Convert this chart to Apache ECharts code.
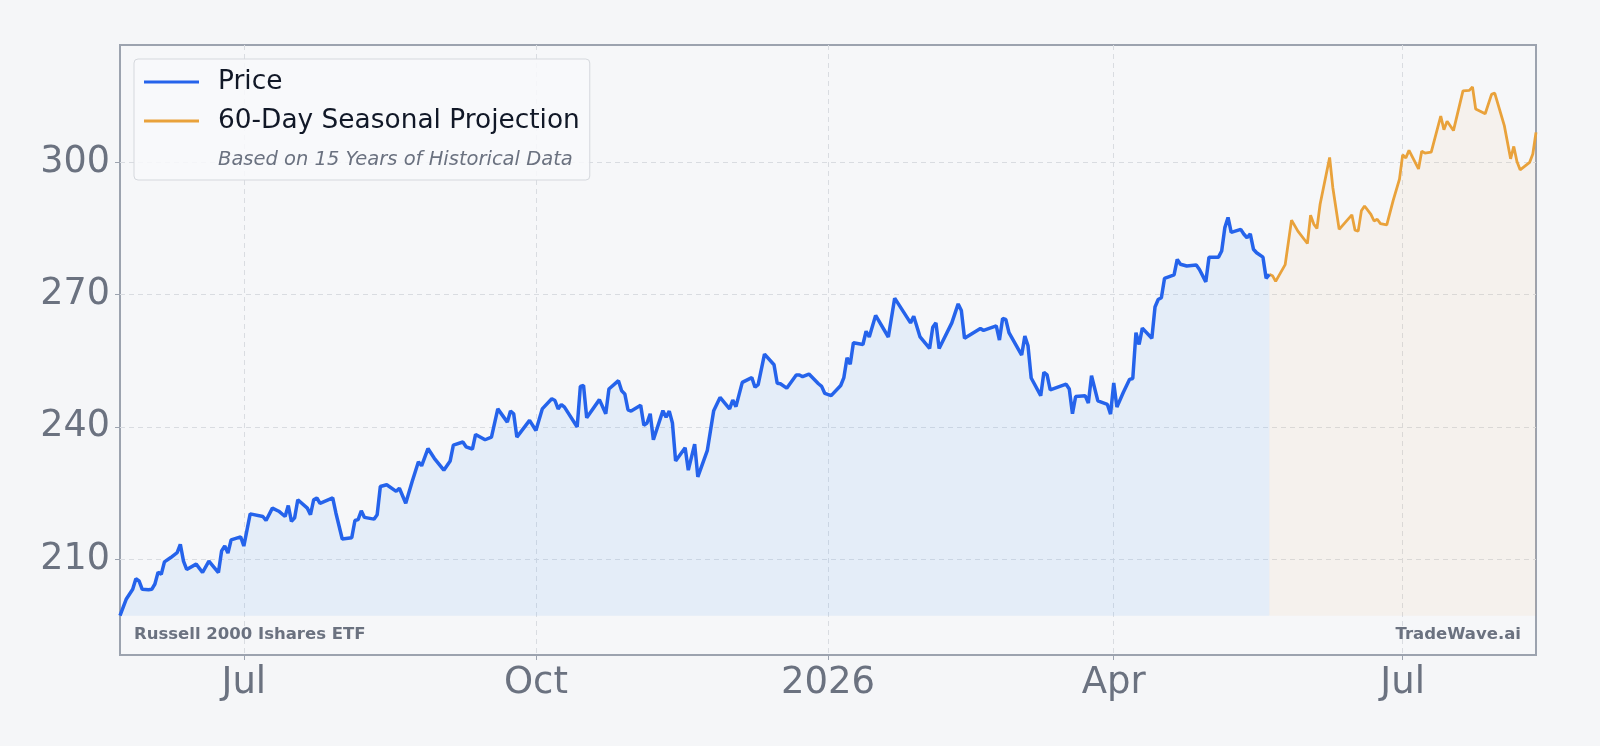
<!DOCTYPE html>
<html>
<head>
<meta charset="utf-8">
<style>
  html, body { margin: 0; padding: 0; background: #f5f6f8; }
  #chart { width: 1600px; height: 746px; }
</style>
<script src="https://cdn.jsdelivr.net/npm/echarts@6/dist/echarts.min.js"></script>
</head>
<body>
<div id="chart"></div>
<script>
// price history
var priceDates = [
  '2025-05-23','2025-05-25','2025-05-27','2025-05-28','2025-05-29','2025-05-30','2025-06-01','2025-06-02',
  '2025-06-03','2025-06-04','2025-06-05','2025-06-06','2025-06-08','2025-06-10','2025-06-11','2025-06-12',
  '2025-06-13','2025-06-16','2025-06-18','2025-06-20','2025-06-23','2025-06-24','2025-06-25','2025-06-26',
  '2025-06-27','2025-06-30','2025-07-01','2025-07-03','2025-07-07','2025-07-08','2025-07-10','2025-07-12',
  '2025-07-14','2025-07-15','2025-07-16','2025-07-17','2025-07-18','2025-07-21','2025-07-22','2025-07-23',
  '2025-07-24','2025-07-25','2025-07-29','2025-07-30','2025-08-01','2025-08-04','2025-08-05','2025-08-06',
  '2025-08-07','2025-08-08','2025-08-11','2025-08-12','2025-08-13','2025-08-15','2025-08-18','2025-08-19',
  '2025-08-21','2025-08-23','2025-08-25','2025-08-26','2025-08-28','2025-08-30','2025-09-02','2025-09-04',
  '2025-09-05','2025-09-08','2025-09-09','2025-09-11','2025-09-12','2025-09-15','2025-09-17','2025-09-19',
  '2025-09-22','2025-09-23','2025-09-24','2025-09-25','2025-09-29','2025-10-01','2025-10-03','2025-10-06',
  '2025-10-07','2025-10-08','2025-10-09','2025-10-10','2025-10-14','2025-10-15','2025-10-16','2025-10-17',
  '2025-10-21','2025-10-23','2025-10-24','2025-10-27','2025-10-28','2025-10-29','2025-10-30','2025-10-31',
  '2025-11-03','2025-11-04','2025-11-05','2025-11-06','2025-11-07','2025-11-10','2025-11-11','2025-11-12',
  '2025-11-13','2025-11-14','2025-11-17','2025-11-18','2025-11-20','2025-11-21','2025-11-24','2025-11-26',
  '2025-11-28','2025-12-01','2025-12-02','2025-12-03','2025-12-05','2025-12-08','2025-12-09','2025-12-10',
  '2025-12-12','2025-12-15','2025-12-16','2025-12-17','2025-12-19','2025-12-22','2025-12-23','2025-12-24',
  '2025-12-26','2025-12-29','2025-12-30','2025-12-31','2026-01-02','2026-01-05','2026-01-06','2026-01-07',
  '2026-01-08','2026-01-09','2026-01-12','2026-01-13','2026-01-14','2026-01-16','2026-01-20','2026-01-22',
  '2026-01-27','2026-01-28','2026-01-30','2026-02-02','2026-02-03','2026-02-04','2026-02-05','2026-02-09',
  '2026-02-11','2026-02-12','2026-02-13','2026-02-18','2026-02-19','2026-02-23','2026-02-24','2026-02-25',
  '2026-02-26','2026-02-27','2026-03-03','2026-03-04','2026-03-05','2026-03-06','2026-03-09','2026-03-10',
  '2026-03-11','2026-03-12','2026-03-17','2026-03-18','2026-03-19','2026-03-20','2026-03-23','2026-03-24',
  '2026-03-25','2026-03-27','2026-03-30','2026-03-31','2026-04-01','2026-04-02','2026-04-04','2026-04-06',
  '2026-04-07','2026-04-08','2026-04-09','2026-04-10','2026-04-13','2026-04-14','2026-04-15','2026-04-16',
  '2026-04-17','2026-04-20','2026-04-21','2026-04-22','2026-04-24','2026-04-27','2026-04-28','2026-04-30',
  '2026-05-01','2026-05-04','2026-05-05','2026-05-06','2026-05-07','2026-05-08','2026-05-11','2026-05-12',
  '2026-05-13','2026-05-14','2026-05-15','2026-05-16','2026-05-18','2026-05-19','2026-05-20'
];
var priceValues = [
  197.2,201.0,203.2,205.6,205.1,203.2,203.1,203.2,
  204.4,207.1,206.6,209.4,210.4,211.5,213.4,209.6,
  207.7,208.9,207.0,209.6,207.0,211.9,213.0,211.4,
  214.4,215.1,213.0,220.3,219.7,218.8,221.6,220.9,
  219.7,222.2,218.6,219.4,223.5,221.6,220.1,223.5,
  223.9,222.7,223.9,220.5,214.6,214.9,218.8,219.0,
  221.0,219.5,219.1,220.1,226.5,226.9,225.4,226.1,
  222.7,227.6,232.1,231.2,235.1,232.9,230.2,232.3,
  235.9,236.6,235.5,235.0,238.3,237.1,237.7,244.1,
  241.1,243.6,243.0,237.7,241.5,239.2,244.1,246.4,
  246.0,244.1,245.1,244.5,240.0,249.2,249.4,242.1,
  246.2,243.0,248.6,250.5,248.2,247.5,243.9,243.6,
  244.9,240.4,240.9,243.0,237.1,243.7,242.2,243.6,
  240.9,232.3,235.3,230.2,236.1,228.7,234.7,243.7,
  246.7,244.1,246.1,244.6,250.1,251.2,249.0,249.6,
  256.5,254.1,249.9,249.8,248.8,251.8,251.8,251.4,
  252.0,249.8,249.2,247.6,247.1,249.4,251.2,255.7,
  254.2,259.1,258.7,261.7,260.4,265.3,260.4,269.2,
  263.6,265.1,260.4,257.8,262.6,263.6,257.8,263.6,
  267.9,266.4,260.1,262.3,261.9,262.9,259.7,264.6,
  264.4,261.4,256.3,260.6,258.4,251.1,247.1,252.4,
  251.8,248.4,249.7,248.6,243.0,246.9,247.1,245.4,
  251.6,245.9,245.1,242.9,250.0,244.5,247.8,250.8,
  251.0,261.4,258.7,262.4,260.1,267.2,268.9,269.3,
  273.7,274.5,278.0,276.9,276.5,276.7,275.7,272.9,
  278.5,278.5,279.9,285.2,287.5,284.1,284.8,283.7,
  282.9,283.8,280.3,279.5,278.5,273.7,274.6
];

// 60-day seasonal projection
var projDates = [
  '2026-05-20','2026-05-21','2026-05-22','2026-05-25','2026-05-27','2026-05-29','2026-06-01','2026-06-02',
  '2026-06-03','2026-06-04','2026-06-05','2026-06-08','2026-06-09','2026-06-11','2026-06-15','2026-06-16',
  '2026-06-17','2026-06-18','2026-06-19','2026-06-21','2026-06-22','2026-06-23','2026-06-24','2026-06-26',
  '2026-06-28','2026-06-30','2026-07-01','2026-07-02','2026-07-03','2026-07-06','2026-07-07','2026-07-08',
  '2026-07-10','2026-07-13','2026-07-14','2026-07-15','2026-07-17','2026-07-20','2026-07-22','2026-07-23',
  '2026-07-24','2026-07-27','2026-07-29','2026-07-30','2026-08-02','2026-08-04','2026-08-05','2026-08-06',
  '2026-08-07','2026-08-10','2026-08-11','2026-08-12'
];
var projValues = [
  274.6,274.3,273.0,276.8,286.9,284.4,281.6,288.0,
  286.0,285.0,290.5,301.1,294.3,284.8,288.1,284.6,
  284.4,289.0,290.1,288.2,286.7,287.1,286.1,285.8,
  291.3,296.2,301.7,301.0,302.7,298.5,302.5,302.1,
  302.3,310.5,307.4,309.3,307.2,316.2,316.3,317.1,
  312.1,311.0,315.4,315.7,308.4,300.8,303.6,300.2,
  298.3,300.0,301.9,306.8
];

var xTickDates = ['2025-07-01','2025-10-01','2026-01-01','2026-04-01','2026-07-01'];
var xTickLabels = ['Jul','Oct','2026','Apr','Jul'];
var yTicks = [210, 240, 270, 300];

var seriesNames = ['Price', '60-Day Seasonal Projection'];
var legendNote = 'Based on 15 Years of Historical Data';
var leftNote = 'Russell 2000 Ishares ETF';
var rightNote = 'TradeWave.ai';

var FONT = 'DejaVu Sans';
var GRAY = '#6b7280';
var BLUE = '#2563eb';
var ORANGE = '#e9a23b';

function toTime(d) { return +echarts.time.parse(d); }

var priceData = priceDates.map(function (d, i) { return [toTime(d), priceValues[i]]; });
var projData = projDates.map(function (d, i) { return [toTime(d), projValues[i]]; });
var fillBase = Math.min.apply(null, priceValues);

var xTickTimes = xTickDates.map(toTime);
var tickLabelByTime = {};
xTickTimes.forEach(function (t, i) { tickLabelByTime[t] = xTickLabels[i]; });

var chart = echarts.init(document.getElementById('chart'));

var gridLine = { show: true, lineStyle: { color: '#d9dce1', width: 1, type: [5, 4] } };

var option = {
  backgroundColor: '#f5f6f8',
  animation: false,
  textStyle: { fontFamily: FONT },
  grid: {
    left: 120, right: 64, top: 45, bottom: 91,
    show: true, borderColor: '#9ca3af', borderWidth: 2, backgroundColor: '#f6f7f9'
  },
  xAxis: {
    type: 'value',
    min: toTime(priceDates[0]),
    max: toTime(projDates[projDates.length - 1]),
    axisLine: { show: false },
    axisTick: { show: true, customValues: xTickTimes, length: 5, lineStyle: { color: '#9ca3af' } },
    axisLabel: {
      customValues: xTickTimes,
      fontSize: 37, color: GRAY, margin: 10,
      formatter: function (v) { return tickLabelByTime[v] || ''; }
    },
    splitLine: gridLine
  },
  yAxis: {
    type: 'value',
    min: 188.3, max: 326.6,
    axisLine: { show: false },
    axisTick: { show: true, customValues: yTicks, length: 5, lineStyle: { color: '#9ca3af' } },
    axisLabel: { customValues: yTicks, fontSize: 36.5, color: GRAY, margin: 10 },
    splitLine: gridLine
  },
  legend: {
    orient: 'vertical',
    left: 134, top: 59,
    padding: [9, 10, 45, 10],
    itemWidth: 55, itemHeight: 3, itemGap: 11,
    backgroundColor: 'rgba(248,249,251,0.85)',
    borderColor: '#d5d8dd', borderWidth: 1, borderRadius: 4,
    textStyle: { fontSize: 26.4, color: '#111827', lineHeight: 28, padding: [0, 0, 0, 14] },
    data: [
      { name: seriesNames[0], icon: 'rect', itemStyle: { color: BLUE } },
      { name: seriesNames[1], icon: 'rect', itemStyle: { color: ORANGE } }
    ]
  },
  graphic: [
    { type: 'text', left: 218, top: 150, z: 100,
      style: { text: legendNote, font: 'italic 19.5px "DejaVu Sans"', fill: GRAY } },
    { type: 'text', left: 134, top: 626, z: 100,
      style: { text: leftNote, font: 'bold 16.5px "DejaVu Sans"', fill: GRAY } },
    { type: 'text', right: 79, top: 626, z: 100,
      style: { text: rightNote, font: 'bold 16.5px "DejaVu Sans"', fill: GRAY } }
  ],
  series: [
    {
      name: seriesNames[0], type: 'line', data: priceData,
      symbol: 'none', z: 3,
      lineStyle: { color: BLUE, width: 3.5 },
      itemStyle: { color: BLUE },
      areaStyle: { color: 'rgba(96,165,250,0.17)', origin: fillBase }
    },
    {
      name: seriesNames[1], type: 'line', data: projData,
      symbol: 'none', z: 2,
      lineStyle: { color: ORANGE, width: 2.8 },
      itemStyle: { color: ORANGE },
      areaStyle: { color: 'rgba(233,162,59,0.09)', origin: fillBase }
    }
  ]
};

chart.setOption(option);
</script>
</body>
</html>
